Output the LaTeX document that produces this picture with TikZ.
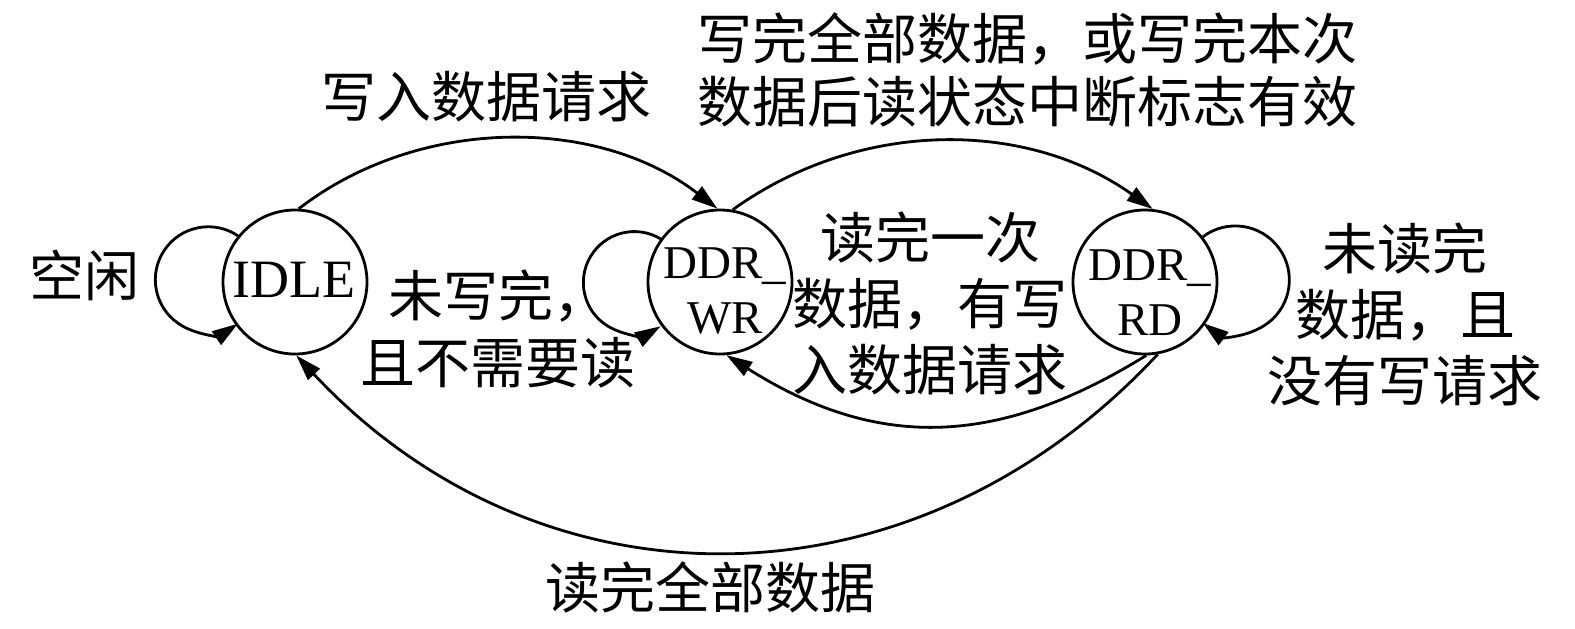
\documentclass[tikz,border=0pt]{standalone}
\usepackage{fontspec}
\setmainfont{Liberation Serif}
\newfontfamily\cjk{Noto Sans CJK SC}
\usetikzlibrary{arrows.meta}
\begin{document}
\begin{tikzpicture}[x=0.5pt,y=-0.5pt,
  state/.style={circle,draw,line width=1.4pt,minimum size=72pt,inner sep=0pt},
  lat/.style={font=\fontsize{23.5pt}{27.5pt}\selectfont,align=center,inner sep=0pt},
  lbl/.style={font=\cjk\fontsize{27.5pt}{33pt}\selectfont,align=center,inner sep=0pt},
  arr/.style={line width=1.4pt,-{Triangle[length=13pt,width=8pt]}}]
\useasboundingbox (0,0) rectangle (1575,628);
% states
\node[state] (idle) at (295,282) {};
\node[state] (wr) at (720,282) {};
\node[state] (rd) at (1145,282) {};
\node[font=\fontsize{27pt}{30pt}\selectfont,inner sep=0pt] (idlet) at (294,280) {IDLE};
\node[lat] (wrt) at (725,290.5) {DDR\_\\WR};
\node[lat] (rdt) at (1150,293) {DDR\_\\RD};
% labels
\node[lbl] (l1) at (84,275) {空闲};
\node[lbl] (l2) at (486,97) {写入数据请求};
\node[lbl,font=\cjk\fontsize{27.5pt}{31.5pt}\selectfont] (l3) at (1027,69.5) {写完全部数据，或写完本次\\数据后读状态中断标志有效};
\node[lbl,font=\cjk\fontsize{27.5pt}{33.5pt}\selectfont] (l4) at (498,328.5) {未写完，\\且不需要读};
\node[lbl] (l5) at (930,303) {读完一次\\数据，有写\\入数据请求};
\node[lbl] (l6) at (1405,314) {未读完\\数据，且\\没有写请求};
\node[lbl] (l7) at (710,587) {读完全部数据};
% transitions
\draw[arr] (idle.87) .. controls (419,116) and (597,116) .. (wr.92);
\draw[arr] (wr.80) .. controls (859,119) and (1026,119) .. (rd.84);
\draw[arr] (rd.271) .. controls (995,449) and (875,449) .. (wr.275);
\draw[arr] (rd.280) .. controls (913,617) and (541,617) .. (idle.271);
% self loops
\draw[arr] (idle.141) arc[start angle=56,end angle=304,radius=26.5pt];
\draw[arr] (wr.144) arc[start angle=59,end angle=301,radius=25.5pt];
\draw[arr] (rd.38) arc[start angle=127,end angle=-127,radius=27pt];
\end{tikzpicture}
\end{document}
